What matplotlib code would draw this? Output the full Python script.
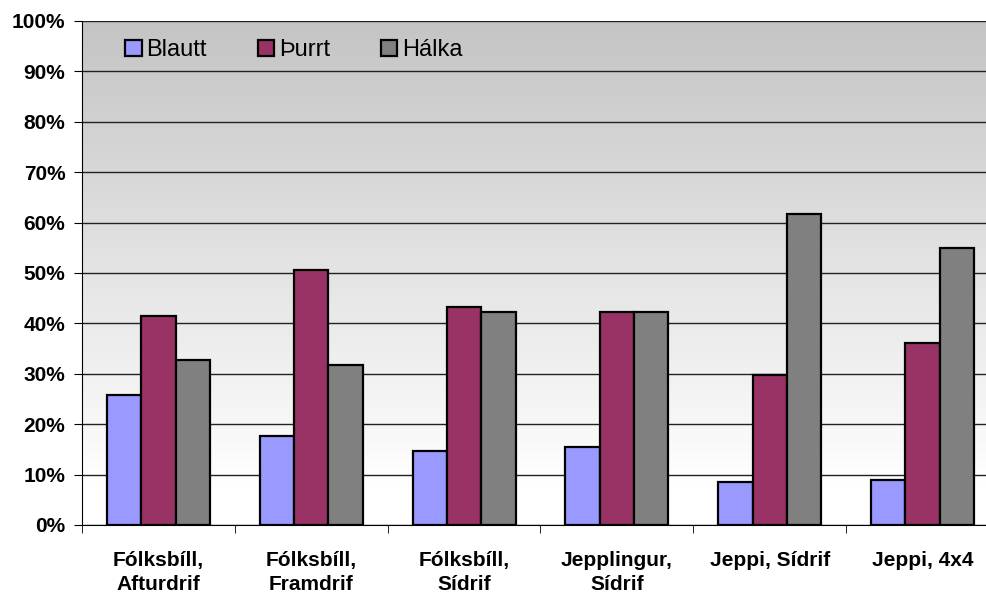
import matplotlib
matplotlib.use('Agg')
import matplotlib.pyplot as plt
import numpy as np
from matplotlib.ticker import FixedLocator, PercentFormatter

categories = ["Fólksbíll,\nAfturdrif", "Fólksbíll,\nFramdrif", "Fólksbíll,\nSídrif",
              "Jepplingur,\nSídrif", "Jeppi, Sídrif", "Jeppi, 4x4"]
series_names = ["Blautt", "Þurrt", "Hálka"]
blautt = [25.8, 17.7, 14.6, 15.4, 8.6, 8.9]
thurrt = [41.5, 50.5, 43.3, 42.3, 29.7, 36.1]
halka = [32.8, 31.8, 42.3, 42.3, 61.8, 55.0]
colors = ["#9999ff", "#993366", "#808080"]

plt.rcParams['font.family'] = ['Liberation Sans', 'DejaVu Sans']

fig = plt.figure(figsize=(9.87, 5.96), dpi=100)
ax = fig.add_axes([82 / 987, 71 / 596, 917 / 987, 504 / 596])

n = len(categories)
x = np.arange(n)
w = 0.225

# gradient background: grey at the top fading to white near the bottom
grad = np.linspace(0, 1, 256).reshape(-1, 1)
vals = np.clip(0.77 + 0.25 * grad, 0, 1)
ax.imshow(np.dstack([vals, vals, vals]), extent=[-0.5, n - 0.5, 0, 100],
          origin='upper', aspect='auto', zorder=0)

for i, (vals_s, c, name) in enumerate(zip([blautt, thurrt, halka], colors, series_names)):
    ax.bar(x + (i - 1) * w, vals_s, width=w, color=c, edgecolor='black',
           linewidth=1.6, label=name, zorder=3)

ax.set_xlim(-0.5, n - 0.5)
ax.set_ylim(0, 100)
ax.set_yticks(np.arange(0, 101, 10))
ax.yaxis.set_major_formatter(PercentFormatter(decimals=0))
ax.yaxis.grid(True, color='#222222', linewidth=1.0, zorder=1)
ax.set_axisbelow(True)

ax.set_xticks(x)
ax.set_xticklabels(categories, fontsize=15, fontweight='bold', linespacing=1.3)
ax.xaxis.set_minor_locator(FixedLocator(np.arange(-0.5, n, 1)))
ax.tick_params(axis='x', which='major', length=0, pad=19)
ax.tick_params(axis='x', which='minor', length=6, direction='out', color='black')
ax.tick_params(axis='y', length=6, direction='out', pad=6, labelsize=15)
for lab in ax.get_yticklabels():
    lab.set_fontweight('bold')

for s in ['top', 'right']:
    ax.spines[s].set_visible(False)
ax.spines['left'].set_color('black')
ax.spines['bottom'].set_color('black')

leg = ax.legend(loc='upper left', bbox_to_anchor=(0.024, 1.006), ncol=3, frameon=False,
                fontsize=17, handlelength=0.7, handleheight=0.7, handletextpad=0.2,
                columnspacing=2.15)
for h in leg.legend_handles:
    h.set_linewidth(1.6)

fig.savefig("out.png", dpi=100)
